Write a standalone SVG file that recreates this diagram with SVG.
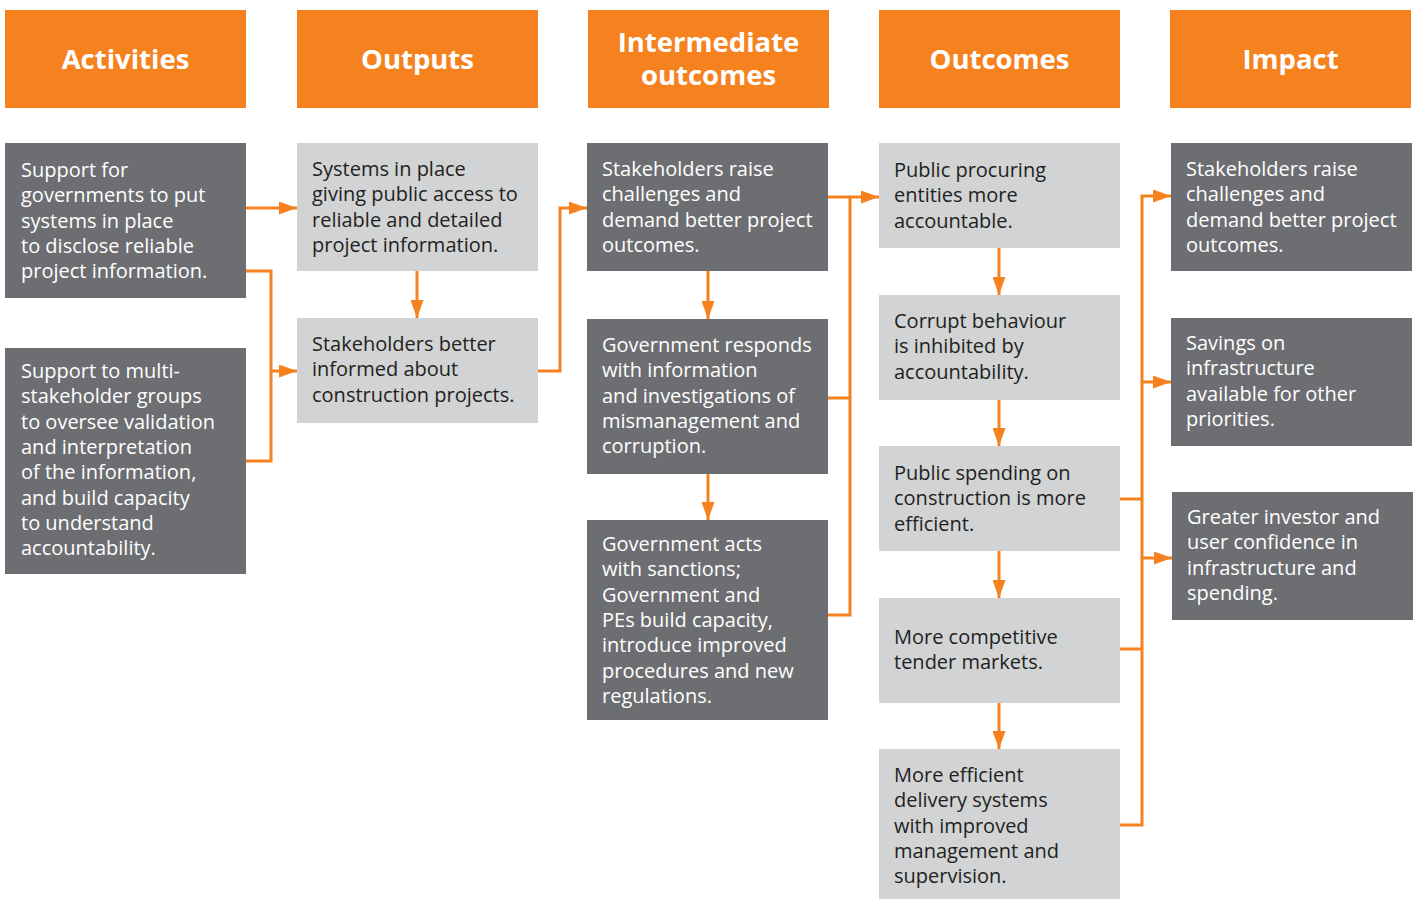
<svg xmlns="http://www.w3.org/2000/svg" width="1416" height="899" viewBox="0 0 1416 899">
<style>
.hd{fill:#f5821f}
.hdt{font-family:"Open Sans","Liberation Sans",sans-serif;font-weight:700;font-size:27.5px;fill:#fff;text-anchor:middle}
.dk{fill:#6d6e71}
.lt{fill:#d1d3d4}
.t{font-family:"Open Sans","Liberation Sans",sans-serif;font-size:20px}
.tw{fill:#fff}
.tb{fill:#231f20}
.c{fill:none;stroke:#f5821f;stroke-width:3}
</style>
<defs>
<marker id="ah" markerUnits="userSpaceOnUse" markerWidth="18" markerHeight="13" refX="18" refY="6.5" orient="auto">
<path d="M0,0 L18,6.5 L0,13 z" fill="#f5821f"/>
</marker>
</defs>
<g id="headers">
<g id="h-activities"><rect class="hd" x="5" y="10" width="241" height="98"/><text class="hdt" x="125.5" y="69">Activities</text></g>
<g id="h-outputs"><rect class="hd" x="297" y="10" width="241" height="98"/><text class="hdt" x="417.5" y="69">Outputs</text></g>
<g id="h-intermediate"><rect class="hd" x="588" y="10" width="241" height="98"/><text class="hdt" x="708.5" y="52"><tspan x="708.5">Intermediate</tspan><tspan x="708.5" dy="33">outcomes</tspan></text></g>
<g id="h-outcomes"><rect class="hd" x="879" y="10" width="241" height="98"/><text class="hdt" x="999.5" y="69">Outcomes</text></g>
<g id="h-impact"><rect class="hd" x="1170" y="10" width="241" height="98"/><text class="hdt" x="1290.5" y="69">Impact</text></g>
</g>
<g id="connectors">
<path class="c" d="M246,208 H297" marker-end="url(#ah)"/>
<path class="c" d="M246,271 H271 V461 H246"/>
<path class="c" d="M271,371 H297" marker-end="url(#ah)"/>
<path class="c" d="M417,271 V318" marker-end="url(#ah)"/>
<path class="c" d="M538,371 H560 V208 H587" marker-end="url(#ah)"/>
<path class="c" d="M708,271 V319" marker-end="url(#ah)"/>
<path class="c" d="M708,474 V520" marker-end="url(#ah)"/>
<path class="c" d="M828,615 H850 V197 H879" marker-end="url(#ah)"/>
<path class="c" d="M828,197 H850"/>
<path class="c" d="M828,398 H850"/>
<path class="c" d="M999,248 V295" marker-end="url(#ah)"/>
<path class="c" d="M999,400 V446" marker-end="url(#ah)"/>
<path class="c" d="M999,551 V598" marker-end="url(#ah)"/>
<path class="c" d="M999,703 V749" marker-end="url(#ah)"/>
<path class="c" d="M1120,825 H1142 V196 H1171" marker-end="url(#ah)"/>
<path class="c" d="M1120,499 H1142"/>
<path class="c" d="M1120,649 H1142"/>
<path class="c" d="M1142,382 H1171" marker-end="url(#ah)"/>
<path class="c" d="M1142,558 H1172" marker-end="url(#ah)"/>
</g>
<g id="act1"><rect class="dk" x="5" y="143" width="241" height="155"/>
<text class="t tw" y="177"><tspan x="21">Support for</tspan><tspan x="21" dy="25.3">governments to put</tspan><tspan x="21" dy="25.3">systems in place</tspan><tspan x="21" dy="25.3">to disclose reliable</tspan><tspan x="21" dy="25.3">project information.</tspan></text></g>
<g id="act2"><rect class="dk" x="5" y="348" width="241" height="226"/>
<text class="t tw" y="378"><tspan x="21">Support to multi-</tspan><tspan x="21" dy="25.3">stakeholder groups</tspan><tspan x="21" dy="25.3">to oversee validation</tspan><tspan x="21" dy="25.3">and interpretation</tspan><tspan x="21" dy="25.3">of the information,</tspan><tspan x="21" dy="25.3">and build capacity</tspan><tspan x="21" dy="25.3">to understand</tspan><tspan x="21" dy="25.3">accountability.</tspan></text></g>
<g id="out1"><rect class="lt" x="297" y="143" width="241" height="128"/>
<text class="t tb" y="176"><tspan x="312">Systems in place</tspan><tspan x="312" dy="25.3">giving public access to</tspan><tspan x="312" dy="25.3">reliable and detailed</tspan><tspan x="312" dy="25.3">project information.</tspan></text></g>
<g id="out2"><rect class="lt" x="297" y="318" width="241" height="105"/>
<text class="t tb" y="351"><tspan x="312">Stakeholders better</tspan><tspan x="312" dy="25.3">informed about</tspan><tspan x="312" dy="25.3">construction projects.</tspan></text></g>
<g id="io1"><rect class="dk" x="587" y="143" width="241" height="128"/>
<text class="t tw" y="176"><tspan x="602">Stakeholders raise</tspan><tspan x="602" dy="25.3">challenges and</tspan><tspan x="602" dy="25.3">demand better project</tspan><tspan x="602" dy="25.3">outcomes.</tspan></text></g>
<g id="io2"><rect class="dk" x="587" y="319" width="241" height="155"/>
<text class="t tw" y="352"><tspan x="602">Government responds</tspan><tspan x="602" dy="25.3">with information</tspan><tspan x="602" dy="25.3">and investigations of</tspan><tspan x="602" dy="25.3">mismanagement and</tspan><tspan x="602" dy="25.3">corruption.</tspan></text></g>
<g id="io3"><rect class="dk" x="587" y="520" width="241" height="200"/>
<text class="t tw" y="551"><tspan x="602">Government acts</tspan><tspan x="602" dy="25.3">with sanctions;</tspan><tspan x="602" dy="25.3">Government and</tspan><tspan x="602" dy="25.3">PEs build capacity,</tspan><tspan x="602" dy="25.3">introduce improved</tspan><tspan x="602" dy="25.3">procedures and new</tspan><tspan x="602" dy="25.3">regulations.</tspan></text></g>
<g id="oc1"><rect class="lt" x="879" y="143" width="241" height="105"/>
<text class="t tb" y="177"><tspan x="894">Public procuring</tspan><tspan x="894" dy="25.3">entities more</tspan><tspan x="894" dy="25.3">accountable.</tspan></text></g>
<g id="oc2"><rect class="lt" x="879" y="295" width="241" height="105"/>
<text class="t tb" y="328"><tspan x="894">Corrupt behaviour</tspan><tspan x="894" dy="25.3">is inhibited by</tspan><tspan x="894" dy="25.3">accountability.</tspan></text></g>
<g id="oc3"><rect class="lt" x="879" y="446" width="241" height="105"/>
<text class="t tb" y="480"><tspan x="894">Public spending on</tspan><tspan x="894" dy="25.3">construction is more</tspan><tspan x="894" dy="25.3">efficient.</tspan></text></g>
<g id="oc4"><rect class="lt" x="879" y="598" width="241" height="105"/>
<text class="t tb" y="644"><tspan x="894">More competitive</tspan><tspan x="894" dy="25.3">tender markets.</tspan></text></g>
<g id="oc5"><rect class="lt" x="879" y="749" width="241" height="150"/>
<text class="t tb" y="782"><tspan x="894">More efficient</tspan><tspan x="894" dy="25.3">delivery systems</tspan><tspan x="894" dy="25.3">with improved</tspan><tspan x="894" dy="25.3">management and</tspan><tspan x="894" dy="25.3">supervision.</tspan></text></g>
<g id="im1"><rect class="dk" x="1171" y="143" width="241" height="128"/>
<text class="t tw" y="176"><tspan x="1186">Stakeholders raise</tspan><tspan x="1186" dy="25.3">challenges and</tspan><tspan x="1186" dy="25.3">demand better project</tspan><tspan x="1186" dy="25.3">outcomes.</tspan></text></g>
<g id="im2"><rect class="dk" x="1171" y="318" width="241" height="128"/>
<text class="t tw" y="350"><tspan x="1186">Savings on</tspan><tspan x="1186" dy="25.3">infrastructure</tspan><tspan x="1186" dy="25.3">available for other</tspan><tspan x="1186" dy="25.3">priorities.</tspan></text></g>
<g id="im3"><rect class="dk" x="1172" y="492" width="241" height="128"/>
<text class="t tw" y="524"><tspan x="1187">Greater investor and</tspan><tspan x="1187" dy="25.3">user confidence in</tspan><tspan x="1187" dy="25.3">infrastructure and</tspan><tspan x="1187" dy="25.3">spending.</tspan></text></g>
</svg>
